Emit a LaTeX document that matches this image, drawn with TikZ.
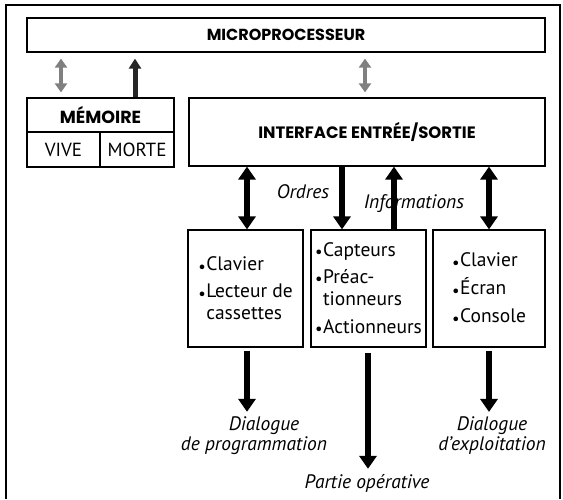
\documentclass[tikz,border=0pt]{standalone}
\usepackage{fontspec}
\setmainfont{PT Sans}
\newfontfamily\capfont{Poppins}
\usetikzlibrary{arrows.meta}
\newcommand{\bul}{\makebox[8pt][l]{\raisebox{-1.5pt}{\scalebox{0.85}{\textbullet}}}}
\newcommand{\ind}{\hspace*{8pt}}
\begin{document}
\begin{tikzpicture}[x=1pt,y=-1pt,
 box/.style={draw, line width=1.2pt, inner sep=0pt},
 captext/.style={font=\capfont\fontsize{16}{18}\selectfont\bfseries},
 regtext/.style={font=\fontsize{19}{21}\selectfont},
 itemtext/.style={font=\fontsize{19.5}{22}\selectfont, align=left},
 lab/.style={font=\fontsize{19.5}{20}\selectfont\itshape, align=center, inner sep=1pt},
 bigarr/.style={line width=6.5pt, -{Triangle[length=13pt,width=17pt]}},
 bigdarr/.style={line width=6.5pt, {Triangle[length=13pt,width=17pt]}-{Triangle[length=13pt,width=17pt]}},
 grayd/.style={line width=4.5pt, draw=black!50, fill=black!50, {Triangle[length=9pt,width=12pt]}-{Triangle[length=9pt,width=12pt]}},
 uparr/.style={line width=5pt, draw=black!85, fill=black!85, -{Triangle[length=10pt,width=12pt]}},
]
\useasboundingbox (0,0) rectangle (563,499);
\draw[line width=1.5pt] (6,499) -- (6,5) -- (560,5) -- (560,499);

% top boxes
\node[box, minimum width=518pt, minimum height=34pt, captext] (mp) at (286,35) {MICROPROCESSEUR};
\node[box, minimum width=147pt, minimum height=34pt, captext, font=\capfont\fontsize{17.5}{18}\selectfont\bfseries] (mem) at (100.5,115) {MÉMOIRE};
\node[box, minimum width=73pt, minimum height=35pt, regtext] (vive) at (63.5,149.5) {VIVE};
\node[box, minimum width=74pt, minimum height=35pt, regtext] (morte) at (137,149.5) {MORTE};
\node[box, minimum width=356pt, minimum height=68pt, captext, font=\capfont\fontsize{16.5}{18}\selectfont\bfseries] (ifc) at (367,132) {INTERFACE ENTRÉE/SORTIE};

% lower boxes
\node[box, minimum width=115pt, minimum height=117pt, itemtext] (b1) at (245.5,288.5)
  {\bul Clavier\\[5pt]\bul Lecteur de\\\ind cassettes};
\node[box, minimum width=115pt, minimum height=117pt, itemtext] (b2) at (368.5,288.5)
  {\bul Capteurs\\[5pt]\bul Préac-\\\ind tionneurs\\[6pt]\bul Actionneurs};
\node[box, minimum width=112pt, minimum height=117pt, itemtext] (b3) at (489,288.5)
  {\bul Clavier\\[6pt]\bul Écran\\[6pt]\bul Console};

% x positions of connectors
\coordinate (xm1) at (61,0);
\coordinate (xm2) at (135,0);
\coordinate (xi) at (365,0);
\coordinate (x1) at (247,0);
\coordinate (xo) at (342,0);
\coordinate (xin) at (394,0);
\coordinate (x3) at (489,0);
\coordinate (xp) at (368,0);

% top connectors
\draw[grayd, shorten <=6pt, shorten >=5pt] (mp.south -| xm1) -- (mem.north -| xm1);
\draw[uparr, shorten >=6pt] (mem.north -| xm2) -- (mp.south -| xm2);
\draw[grayd, shorten <=6pt, shorten >=5pt] (mp.south -| xi) -- (ifc.north -| xi);

% labels
\node[lab] (ord) at (303,192) {Ordres};
\node[lab] (inf) at (414,204) {Informations};

% interface connectors
\draw[bigdarr] (ifc.south -| x1) -- (b1.north -| x1);
\draw[bigarr] (ifc.south -| xo) -- (b2.north -| xo);
\draw[bigarr] (b2.north -| xin) -- (ifc.south -| xin);
\draw[bigdarr] (ifc.south -| x3) -- (b3.north -| x3);

% bottom labels
\node[lab] (dp) at (254,436) {\hspace*{20pt}Dialogue\\de programmation};
\node[lab] (de) at (492,436) {Dialogue\\d'exploitation};
\node[lab] (po) at (367,483) {Partie opérative};

\draw[bigarr, shorten <=3pt, shorten >=4pt] (b1.south -| x1) -- (dp.north -| x1);
\draw[bigarr, shorten <=5pt, shorten >=4pt] (b2.south -| xp) -- (po.north -| xp);
\draw[bigarr, shorten <=3pt, shorten >=4pt] (b3.south -| x3) -- (de.north -| x3);
\end{tikzpicture}
\end{document}
